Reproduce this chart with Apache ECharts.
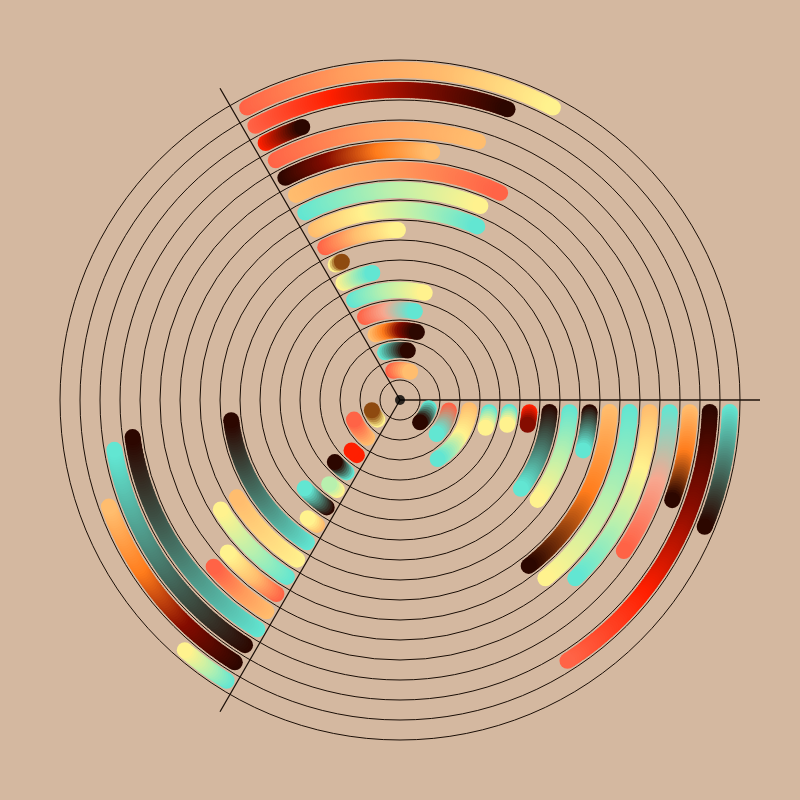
<!DOCTYPE html>
<html><head><meta charset="utf-8">
<script src="https://cdn.jsdelivr.net/npm/echarts/dist/echarts.min.js"></script>
<style>html,body{margin:0;padding:0;background:#d4b8a0}#c{width:800px;height:800px}</style>
</head><body><div id="c"></div><script>
// ring index (1 = innermost ring band, 16 = outermost)
const rings = [1,2,3,4,5,6,7,8,9,10,11,12,13,14,15,16];
// angles in degrees, measured clockwise from 3 o'clock
const rightStart = [16,12,8.4,7.8,6.3,5.4,4.6,4.1,3.7,3.3,3,2.8,2.6,2.4,2.2,2.1];
const rightEnd   = [48,43,57.5,18,13,11,36.3,36,15.4,52.2,50.8,45.5,34,20.2,57.3,22.6];
const leftStart  = [139,131,128,126.4,125,124.3,123.6,123.2,122.8,122.6,122.5,122.3,121.9,122.3,122.2,121.7];
const leftEnd    = [160,157,133.8,136.4,130.1,137.2,128,173.2,149.2,148.6,138.5,138.2,172.1,170.1,159.9,130.7];
const topStart   = [257,252.6,249.5,247.1,245.3,244.2,244.6,243.9,243.7,243.2,243.1,242.7,242.6,242.4,242.2,242.4];
const topEnd     = [289.7,279,284,279.5,283,257.7,247.2,269.3,294,292.5,295.8,277.4,286.8,250.3,290.3,297.6];
// colour stops along each arc (palette keys), start -> end
const rightColors = [
  ['TQ','DK'],['CO','TQ'],['LO','YE','TQ'],['TQ','YE'],['TQ','YE'],['RD','DR'],
  ['DK','TQ'],['TQ','LG','YE'],['DK','TQ'],['LO','OR','DK'],['TQ','LG','YE'],
  ['LO','YE','LG','TQ'],['TQ','PE','CO'],['LO','OR','DK'],['DK','DR','RD','CO'],['TQ','DK']
];
const leftColors = [
  ['YE','BR'],['LO','CO'],['RD','RD'],['TQ','DK'],['YE','LG'],['DK','TQ'],
  ['LO','YE'],['TQ','DK'],['YE','LO'],['TQ','LG','YE'],['CO','LO','YE'],
  ['LO','OA','CO'],['TQ','DK'],['DK','TQ'],['DK','DR','OR','LO'],['TQ','LG','YE']
];
const topColors = [
  ['CO','LO'],['TQ','DK'],['LO','OR','DR','DK'],['CO','PE','TQ'],['TQ','LG','YE'],['YE','TQ'],
  ['YE','BR'],['CO','LO','YE'],['LO','YE','LG','TQ'],['TQ','LG','YE'],['LO','OA','CO'],
  ['DK','DR','OR','LO'],['CO','OA','LO'],['RD','DK'],['CO','RD','DR','DK'],['CO','OA','LO','YE']
];

// ---- styles ----
const palette = {
  DK:'#2c0700', DR:'#850c00', RD:'#ff1f00', CO:'#ff6346', OA:'#ff9c5c', OR:'#ff7c1c',
  LO:'#ffbd6e', YE:'#fff28e', LG:'#b8f0ae', TQ:'#62e6d2', PE:'#f7a890', BR:'#8e4a10'
};
const DOT_R = 8;
const STEP_PX = 2.5;

function hex2rgb(h){return [parseInt(h.slice(1,3),16),parseInt(h.slice(3,5),16),parseInt(h.slice(5,7),16)];}
function mix(stops,t){
  if(stops.length===1) return stops[0];
  const s=t*(stops.length-1); let i=Math.floor(s); if(i>=stops.length-1) i=stops.length-2;
  const f=s-i, a=hex2rgb(stops[i]), b=hex2rgb(stops[i+1]);
  return 'rgb('+a.map((v,j)=>Math.round(v+(b[j]-v)*f)).join(',')+')';
}

const arcData = [], arcStops = [];
[[rightStart,rightEnd,rightColors],[leftStart,leftEnd,leftColors],[topStart,topEnd,topColors]].forEach(([s,e,c])=>{
  rings.forEach((k,i)=>{ arcData.push([k+0.5, s[i], e[i]]); arcStops.push(c[i].map(n=>palette[n])); });
});

function renderItem(params, api){
  const rv=api.value(0), a0=api.value(1), a1=api.value(2);
  const stops=arcStops[params.dataIndex];
  const c=api.coord([0,0]), p=api.coord([rv,a0]);
  const rpx=Math.hypot(p[0]-c[0],p[1]-c[1]);
  const len=rpx*Math.abs(a1-a0)*Math.PI/180;
  const n=Math.max(2,Math.ceil(len/STEP_PX)+1);
  const children=[];
  for(let i=0;i<n;i++){
    const t=i/(n-1);
    const pt=api.coord([rv,a0+(a1-a0)*t]);
    children.push({type:'circle',shape:{cx:pt[0],cy:pt[1],r:DOT_R},style:{fill:mix(stops,t)}});
  }
  return {type:'group',children};
}

const chart = echarts.init(document.getElementById('c'), null, {renderer:'canvas'});
chart.setOption({
  backgroundColor:'#d4b8a0',
  animation:false,
  polar:[{center:['50%','50%'],radius:340},{center:['50%','50%'],radius:360}],
  radiusAxis:[
    {polarIndex:0,type:'value',min:0,max:17,interval:1,axisLine:{show:false},axisTick:{show:false},axisLabel:{show:false},
     splitLine:{show:true,lineStyle:{color:'#1a0e06',width:1}}},
    {polarIndex:1,type:'value',min:0,max:1,show:false}
  ],
  angleAxis:[
    {polarIndex:0,type:'value',min:0,max:360,startAngle:0,clockwise:true,axisLine:{show:false},axisTick:{show:false},axisLabel:{show:false},splitLine:{show:false}},
    {polarIndex:1,type:'value',min:0,max:360,interval:120,startAngle:0,clockwise:true,axisLine:{show:false},axisTick:{show:false},axisLabel:{show:false},
     splitLine:{show:true,lineStyle:{color:'#1e120a',width:1.3}}}
  ],
  series:[
    {type:'custom',coordinateSystem:'polar',polarIndex:0,renderItem:renderItem,data:arcData,silent:true},
    {type:'scatter',coordinateSystem:'polar',polarIndex:0,data:[[0,0]],symbolSize:10,itemStyle:{color:'#000'},silent:true,z:5}
  ]
});
</script></body></html>
